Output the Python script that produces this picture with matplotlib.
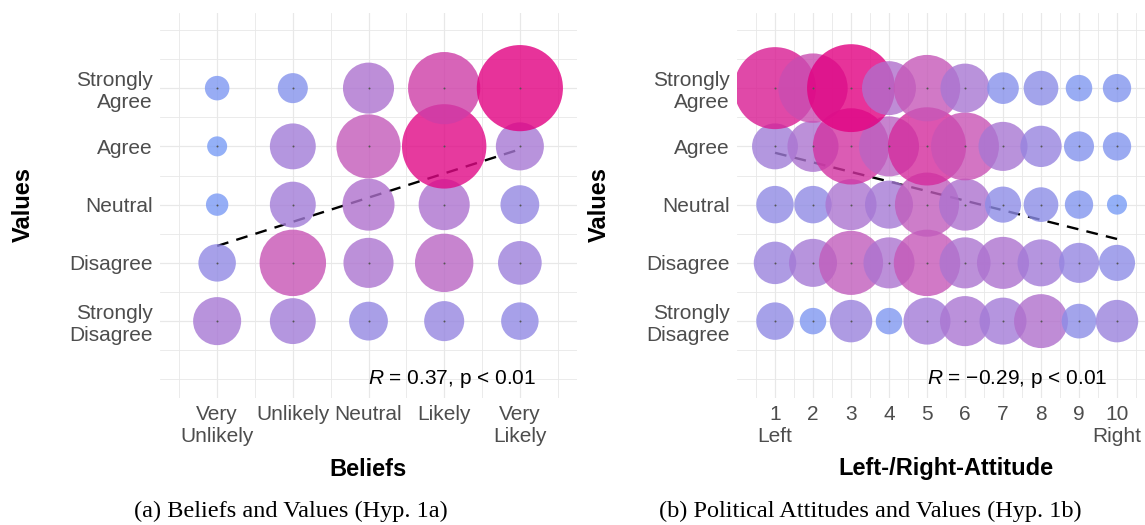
import matplotlib
matplotlib.use("Agg")
import matplotlib.pyplot as plt
import numpy as np
from matplotlib.colors import LinearSegmentedColormap, Normalize

# y categories (bottom to top)
value_labels = ["Strongly\nDisagree", "Disagree", "Neutral", "Agree", "Strongly\nAgree"]
belief_labels = ["Very\nUnlikely", "Unlikely", "Neutral", "Likely", "Very\nLikely"]
attitude_labels = ["1\nLeft", "2", "3", "4", "5", "6", "7", "8", "9", "10\nRight"]

# counts per cell, rows from Strongly Disagree to Strongly Agree
belief_counts = [
    [23, 21, 15, 16, 14],
    [14, 44, 25, 34, 19],
    [5, 21, 27, 26, 15],
    [4, 21, 41, 71, 23],
    [6, 9, 26, 52, 74],
]
attitude_counts = [
    [14, 7, 18, 7, 22, 25, 22, 29, 12, 18],
    [18, 23, 41, 26, 44, 26, 27, 22, 16, 13],
    [14, 14, 26, 23, 41, 27, 13, 12, 8, 4],
    [21, 26, 58, 36, 61, 46, 24, 17, 9, 8],
    [67, 48, 77, 29, 44, 24, 10, 12, 7, 8],
]

# linear fit, value at first and last x category
belief_fit = [2.29, 3.95]
attitude_fit = [3.89, 2.41]
belief_stat = "0.37"
attitude_stat = "\u22120.29"

plt.rcParams["font.family"] = ["Liberation Sans", "DejaVu Sans"]
plt.rcParams["mathtext.fontset"] = "custom"
plt.rcParams["mathtext.rm"] = "Liberation Sans"
plt.rcParams["mathtext.it"] = "Liberation Sans:italic"

# blue -> magenta gradient (lighter in the middle, like a Lab blend)
cmap = LinearSegmentedColormap.from_list(
    "bub",
    [(0.0, "#799cf5"), (0.3, "#ac74d0"), (0.55, "#c658b8"), (1.0, "#e20081")],
)
GRID = "#e8e8e8"


def panel(ax, counts, xlabels, fit, stat, stat_x, xlim):
    counts = np.array(counts)
    ny, nx = counts.shape
    xs, ys = np.meshgrid(np.arange(1, nx + 1), np.arange(1, ny + 1))
    norm = Normalize(counts.min(), counts.max())

    ax.plot([1, nx], fit, color="black", lw=1.7, dashes=(5, 3.5), zorder=2)
    ax.scatter(xs.ravel(), ys.ravel(), s=counts.ravel() * 52, c=counts.ravel(),
               cmap=cmap, norm=norm, alpha=0.8, linewidths=0, zorder=3)
    ax.scatter(xs.ravel(), ys.ravel(), s=2, color="#555555", linewidths=0, zorder=4)

    ax.text(stat_x, 0, r"$\mathit{R}$ = " + stat + ", p < 0.01",
            ha="left", va="center", fontsize=15, color="black", zorder=5)

    ax.set_xlim(*xlim)
    ax.set_ylim(-0.32, 6.29)
    ax.set_xticks(np.arange(1, nx + 1))
    ax.set_xticklabels(xlabels)
    ax.set_xticks(np.arange(0.5, nx + 1, 1.0), minor=True)
    ax.set_yticks(np.arange(1, ny + 1))
    ax.set_yticklabels(value_labels)
    ax.set_yticks([0, 0.5, 1.5, 2.5, 3.5, 4.5, 5.5, 6], minor=True)
    ax.grid(which="major", color=GRID, lw=0.9, zorder=0)
    ax.grid(which="minor", color=GRID, lw=0.6, zorder=0)
    ax.set_axisbelow(True)
    for s in ax.spines.values():
        s.set_visible(False)
    ax.tick_params(which="both", length=0, labelsize=15, labelcolor="#4d4d4d", pad=5)
    for t in ax.get_xticklabels() + ax.get_yticklabels():
        t.set_linespacing(1.2)


fig = plt.figure(figsize=(11.45, 5.25), dpi=100)
ax1 = fig.add_axes([160 / 1145, 127 / 525, 417 / 1145, 385 / 525])
ax2 = fig.add_axes([737 / 1145, 127 / 525, 418 / 1145, 385 / 525])

panel(ax1, belief_counts, belief_labels, belief_fit, belief_stat, 3, (0.245, 5.755))
panel(ax2, attitude_counts, attitude_labels, attitude_fit, attitude_stat, 5, (0, 11))

fig.text(23 / 1145, 1 - 205 / 525, "Values", rotation=90, ha="center", va="center",
         fontsize=17, fontweight="bold")
fig.text(599 / 1145, 1 - 205 / 525, "Values", rotation=90, ha="center", va="center",
         fontsize=17, fontweight="bold")
fig.text(368 / 1145, 1 - 469 / 525, "Beliefs", ha="center", va="center",
         fontsize=17, fontweight="bold")
fig.text(946 / 1145, 1 - 469 / 525, "Left-/Right-Attitude", ha="center", va="center",
         fontsize=17, fontweight="bold")

fig.text(291 / 1145, 1 - 511 / 525, "(a) Beliefs and Values (Hyp. 1a)", ha="center",
         va="center", fontsize=17.5, family="Liberation Serif")
fig.text(870 / 1145, 1 - 511 / 525, "(b) Political Attitudes and Values (Hyp. 1b)",
         ha="center", va="center", fontsize=17.5, family="Liberation Serif")

fig.savefig("out.png", dpi=100)
